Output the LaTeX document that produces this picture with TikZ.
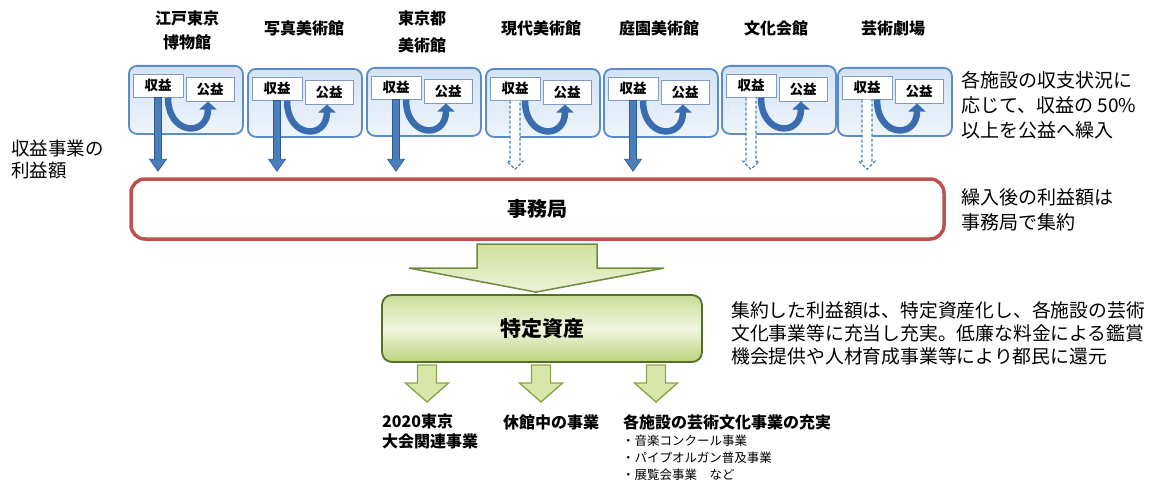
\documentclass[tikz,border=0pt]{standalone}
\usepackage{fontspec}
\setmainfont{Noto Sans CJK JP}
\usetikzlibrary{calc,arrows.meta}
\definecolor{facborder}{HTML}{5B8BC9}
\definecolor{facTop}{HTML}{D3E3F5}
\definecolor{facBot}{HTML}{EEF4FB}
\definecolor{labborder}{HTML}{7F9CC0}
\definecolor{arrblue}{HTML}{4A7EBB}
\definecolor{arrdark}{HTML}{2F5B93}
\definecolor{curvblue}{HTML}{3A6DB0}
\definecolor{jred}{HTML}{C0504D}
\definecolor{gTop}{HTML}{CADC96}
\definecolor{gMid}{HTML}{F1F6DF}
\definecolor{gBot}{HTML}{BCD17C}
\definecolor{gBorder}{HTML}{556F26}
\definecolor{aTop}{HTML}{D0E09B}
\definecolor{aBot}{HTML}{EDF3D8}
\definecolor{aBorder}{HTML}{6E8B3D}
\definecolor{sFill}{HTML}{D8E6A9}
\definecolor{sBorder}{HTML}{8AA84A}
\newcommand\facil[4]{%
  \node[facbox] (f#1) at (#2,#3) {};
  \node[shou] (r#1) at ($(f#1.north west)+(30,20.5)$) {収益};
  \node[kou] (k#1) at ($(f#1.north west)+(82,24)$) {公益};
  \draw[curv] ($(r#1.south)+(10,0)$) .. controls +(0,38) and +(0,36) .. ($(k#1.south)+(-2,0)$);
  \ifnum#4=1
    \filldraw[solidarr] ($(r#1.south)+(-3.5,0)$) -- ($(r#1.south|-sj.north)+(-3.5,-18)$) -- ++(-5,0)
      -- ($(r#1.south|-sj.north)+(0,-6)$) -- ($(r#1.south|-sj.north)+(8.5,-18)$) -- ++(-5,0)
      -- ($(r#1.south)+(3.5,0)$) -- cycle;
  \else
    \filldraw[dasharr] ($(r#1.south)+(-5,0)$) -- ($(r#1.south|-sj.north)+(-5,-16)$) -- ++(-3,0)
      -- ($(r#1.south|-sj.north)+(0,-8)$) -- ($(r#1.south|-sj.north)+(8,-16)$) -- ++(-3,0)
      -- ($(r#1.south)+(5,0)$);
  \fi
}
\newcommand\smallarr[2]{%
  \filldraw[sarr] ($(#1)+(-9.5,0)$) -- ++(0,18) -- ++(-12,0) -- ($(#1)+(0,37)$) -- ($(#1)+(21.5,18)$) -- ++(-12,0) -- ($(#1)+(9.5,0)$) -- cycle;
}
\begin{document}
\begin{tikzpicture}[x=1pt,y=-1pt,
  facbox/.style={draw=facborder, line width=1.8pt, rounded corners=8pt, top color=facTop, bottom color=facBot,
    minimum width=114pt, minimum height=68pt, anchor=north west, inner sep=0pt},
  shou/.style={draw=labborder, line width=1pt, fill=white, minimum width=50pt, minimum height=23pt, inner sep=0pt,
    font=\fontsize{13.5}{13.5}\selectfont\bfseries},
  kou/.style={shou, minimum width=48pt, minimum height=24pt},
  curv/.style={draw=curvblue, line width=6.5pt, -{Triangle[length=8pt,width=17pt]}},
  solidarr/.style={fill=arrblue, draw=arrdark, line width=0.6pt},
  dasharr/.style={fill=white, draw=arrblue, line width=1.3pt, dash pattern=on 3pt off 2pt},
  title/.style={font=\fontsize{16}{24}\selectfont\bfseries, align=center, inner sep=0pt},
  note/.style={font=\fontsize{19}{25}\selectfont, align=left, anchor=west, inner sep=0pt},
  sarr/.style={fill=sFill, draw=sBorder, line width=1.4pt},
  btext/.style={font=\fontsize{16}{20}\selectfont\bfseries, align=left, anchor=west, inner sep=0pt}
]
\useasboundingbox (0,0) rectangle (1153,487);
% secretariat
\node[draw=jred, line width=3.5pt, rounded corners=14pt, fill=white, minimum width=813pt, minimum height=60pt,
  font=\fontsize{20}{20}\selectfont\bfseries] (sj) at (537.5,209) {事務局};
% facilities
\facil{1}{128}{65}{1}
\facil{2}{247}{68}{1}
\facil{3}{366}{67}{1}
\facil{4}{485}{68}{0}
\facil{5}{603}{68}{1}
\facil{6}{721}{65}{0}
\facil{7}{837}{67}{0}
% titles
\node[title] (t1) at (187,30) {江戸東京\\博物館};
\node[title] (t2) at (304,28) {写真美術館};
\node[title] (t3) at (422,31.5) {東京都\\[3pt]美術館};
\node[title] (t4) at (541,28) {現代美術館};
\node[title] (t5) at (659,28) {庭園美術館};
\node[title] (t6) at (776,28) {文化会館};
\node[title] (t7) at (893,28) {芸術劇場};
% side notes
\node[note, font=\fontsize{18.5}{22}\selectfont] (n0) at (11,159) {収益事業の\\利益額};
\node[note] (n1) at (961,105) {各施設の収支状況に\\応じて、収益の 50\%\\以上を公益へ繰入};
\node[note] (n2) at (961,209.5) {繰入後の利益額は\\事務局で集約};
\node[note, font=\fontsize{18.8}{23}\selectfont] (n3) at (731,333) {集約した利益額は、特定資産化し、各施設の芸術\\文化事業等に充当し充実。低廉な料金による鑑賞\\機会提供や人材育成事業等により都民に還元};
% specific asset
\node[draw=gBorder, line width=1.8pt, rounded corners=10pt, top color=gTop, bottom color=gBot, middle color=gMid,
  minimum width=320pt, minimum height=67pt, font=\fontsize{21}{21}\selectfont\bfseries] (tk) at (542,328.5) {特定資産};
% big arrow
\coordinate (bt) at ($(tk.north)+(-6,-2)$);
\filldraw[draw=aBorder, line width=1.5pt, top color=aTop, bottom color=aBot]
  ($(bt)+(-59,-48)$) -- ($(bt)+(-59,-24)$) -- ($(bt)+(-127,-24)$) -- (bt) -- ($(bt)+(128,-24)$)
  -- ($(bt)+(61,-24)$) -- ($(bt)+(61,-48)$) -- cycle;
% small arrows
\coordinate (s1) at (427,365);
\coordinate (s2) at (541,365);
\coordinate (s3) at (656,365);
\smallarr{s1}{}
\smallarr{s2}{}
\smallarr{s3}{}
% bottom texts
\node[btext] (b1) at (382,431) {2020東京\\大会関連事業};
\node[btext] (b2) at (503,422) {休館中の事業};
\node[btext] (b3) at (623,422) {各施設の芸術文化事業の充実};
\node[font=\fontsize{12.5}{17}\selectfont, align=left, anchor=west, inner sep=0pt] (b4) at (622,457.5)
  {・音楽コンクール事業\\・パイプオルガン普及事業\\・展覧会事業　など};
\end{tikzpicture}
\end{document}
